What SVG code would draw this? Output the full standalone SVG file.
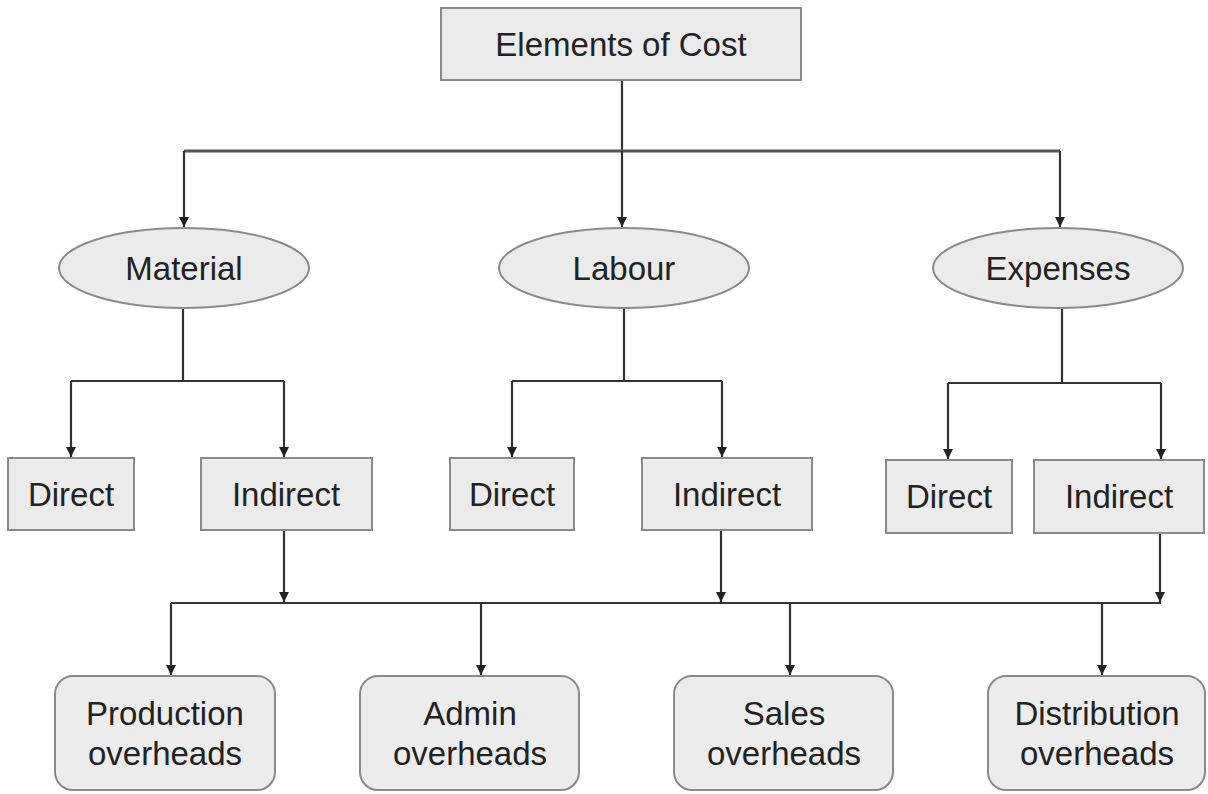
<svg xmlns="http://www.w3.org/2000/svg" width="1208" height="794" viewBox="0 0 1208 794">
  <defs>
    <marker id="arr" viewBox="0 0 10 10" refX="10" refY="5" markerWidth="10" markerHeight="10" markerUnits="userSpaceOnUse" orient="auto">
      <path d="M0,0 L10,5 L0,10 z" fill="#222"/>
    </marker>
  </defs>
  <style>
    .box { fill: #ebebeb; stroke: #8a8a8a; stroke-width: 2; }
    .ell { fill: #ebebeb; stroke: #8a8a8a; stroke-width: 2; }
    .rbox { fill: #ececec; stroke: #8a8a8a; stroke-width: 2; }
    .t { font-family: "Liberation Sans", Arial, sans-serif; font-size: 33px; fill: #222; text-anchor: middle; }
    .ln { fill: none; stroke: #333; stroke-width: 2.2; }
    .arw { fill: none; stroke: #333; stroke-width: 2.2; marker-end: url(#arr); }
  </style>
  <rect width="1208" height="794" fill="#ffffff"/>

  <g id="connectors">
    <!-- top level -->
    <line class="ln" x1="622" y1="80" x2="622" y2="151"/>
    <line class="ln" x1="184" y1="151" x2="1060" y2="151" style="stroke:#555;stroke-width:3"/>
    <line class="arw" x1="184" y1="151" x2="184" y2="227"/>
    <line class="arw" x1="622" y1="151" x2="622" y2="227"/>
    <line class="arw" x1="1060" y1="151" x2="1060" y2="227"/>
    <!-- material -->
    <line class="ln" x1="183" y1="308" x2="183" y2="381"/>
    <line class="ln" x1="71" y1="381" x2="284" y2="381"/>
    <line class="arw" x1="71" y1="381" x2="71" y2="457"/>
    <line class="arw" x1="284" y1="381" x2="284" y2="457"/>
    <!-- labour -->
    <line class="ln" x1="624" y1="308" x2="624" y2="381"/>
    <line class="ln" x1="512" y1="381" x2="722" y2="381"/>
    <line class="arw" x1="512" y1="381" x2="512" y2="457"/>
    <line class="arw" x1="722" y1="381" x2="722" y2="457"/>
    <!-- expenses -->
    <line class="ln" x1="1062" y1="308" x2="1062" y2="383"/>
    <line class="ln" x1="948" y1="383" x2="1161" y2="383"/>
    <line class="arw" x1="948" y1="383" x2="948" y2="459"/>
    <line class="arw" x1="1161" y1="383" x2="1161" y2="459"/>
    <!-- indirect to bar -->
    <line class="arw" x1="284" y1="530" x2="284" y2="602"/>
    <line class="arw" x1="721" y1="531" x2="721" y2="602"/>
    <line class="arw" x1="1160" y1="533" x2="1160" y2="602"/>
    <line class="ln" x1="171" y1="603" x2="1161" y2="603"/>
    <!-- bar to overheads -->
    <line class="arw" x1="171" y1="603" x2="171" y2="675"/>
    <line class="arw" x1="481" y1="603" x2="481" y2="675"/>
    <line class="arw" x1="790" y1="603" x2="790" y2="675"/>
    <line class="arw" x1="1102" y1="603" x2="1102" y2="675"/>
  </g>

  <g id="elements-of-cost">
    <rect class="box" x="441" y="8" width="360" height="72"/>
    <text class="t" x="621" y="56">Elements of Cost</text>
  </g>

  <g id="material">
    <ellipse class="ell" cx="184" cy="268" rx="125" ry="40"/>
    <text class="t" x="184" y="280">Material</text>
  </g>
  <g id="labour">
    <ellipse class="ell" cx="624" cy="268" rx="125" ry="40"/>
    <text class="t" x="624" y="280">Labour</text>
  </g>
  <g id="expenses">
    <ellipse class="ell" cx="1058" cy="268" rx="125" ry="40"/>
    <text class="t" x="1058" y="280">Expenses</text>
  </g>

  <g id="material-direct">
    <rect class="box" x="8" y="458" width="126" height="72"/>
    <text class="t" x="71" y="506">Direct</text>
  </g>
  <g id="material-indirect">
    <rect class="box" x="201" y="458" width="171" height="72"/>
    <text class="t" x="286" y="506">Indirect</text>
  </g>
  <g id="labour-direct">
    <rect class="box" x="450" y="458" width="124" height="72"/>
    <text class="t" x="512" y="506">Direct</text>
  </g>
  <g id="labour-indirect">
    <rect class="box" x="642" y="458" width="170" height="72"/>
    <text class="t" x="727" y="506">Indirect</text>
  </g>
  <g id="expenses-direct">
    <rect class="box" x="886" y="460" width="126" height="73"/>
    <text class="t" x="949" y="508">Direct</text>
  </g>
  <g id="expenses-indirect">
    <rect class="box" x="1034" y="460" width="170" height="73"/>
    <text class="t" x="1119" y="508">Indirect</text>
  </g>

  <g id="production-overheads">
    <rect class="rbox" x="55" y="676" width="220" height="114" rx="18" ry="18"/>
    <text class="t" x="165" y="725">Production</text>
    <text class="t" x="165" y="765">overheads</text>
  </g>
  <g id="admin-overheads">
    <rect class="rbox" x="360" y="676" width="219" height="114" rx="18" ry="18"/>
    <text class="t" x="470" y="725">Admin</text>
    <text class="t" x="470" y="765">overheads</text>
  </g>
  <g id="sales-overheads">
    <rect class="rbox" x="674" y="676" width="219" height="114" rx="18" ry="18"/>
    <text class="t" x="784" y="725">Sales</text>
    <text class="t" x="784" y="765">overheads</text>
  </g>
  <g id="distribution-overheads">
    <rect class="rbox" x="988" y="676" width="217" height="114" rx="18" ry="18"/>
    <text class="t" x="1097" y="725">Distribution</text>
    <text class="t" x="1097" y="765">overheads</text>
  </g>
</svg>
